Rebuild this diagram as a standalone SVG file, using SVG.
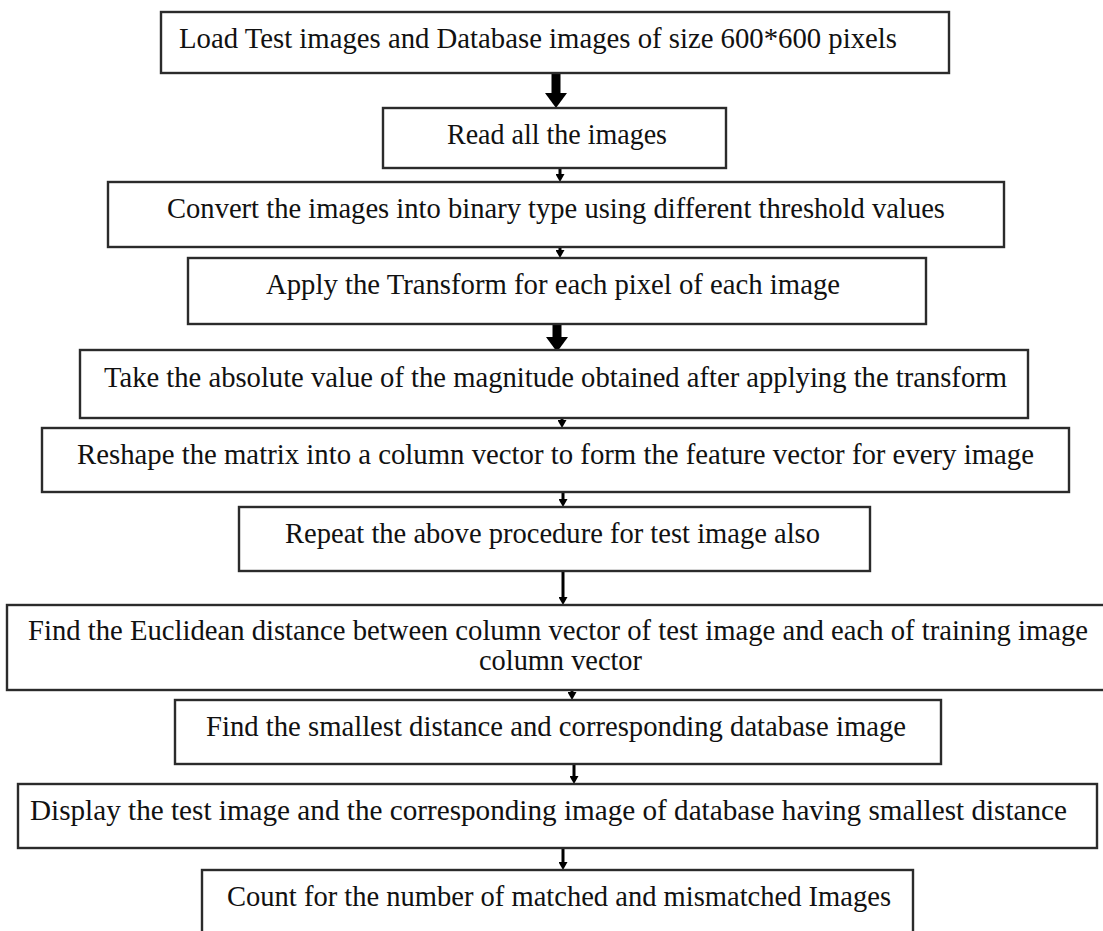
<svg xmlns="http://www.w3.org/2000/svg" width="1103" height="931" viewBox="0 0 1103 931">
<style>
.box{fill:#fff;stroke:#2b2b2b;stroke-width:2.4}
.t{font-family:"Liberation Serif","Times New Roman",serif;font-size:30px;fill:#111}
.thick{stroke:#000;stroke-width:9;fill:none}
.thin{stroke:#000;stroke-width:3;fill:none}
</style>
<defs>
<marker id="hThick" markerUnits="userSpaceOnUse" viewBox="0 0 15 22" markerWidth="15" markerHeight="22" refX="0" refY="11" orient="auto">
<path d="M0,0 L15,11 L0,22 z" fill="#000"/>
</marker>
<marker id="hThin" markerUnits="userSpaceOnUse" viewBox="0 0 8 9" markerWidth="8" markerHeight="9" refX="0" refY="4.5" orient="auto">
<path d="M0,0 L8,4.5 L0,9 z" fill="#000"/>
</marker>
</defs>
<rect width="1103" height="931" fill="#fff"/>
<g id="connectors">
<line class="thick" x1="556" y1="73" x2="556" y2="93" marker-end="url(#hThick)"/>
<line class="thin" x1="560" y1="168" x2="560" y2="174" marker-end="url(#hThin)"/>
<line class="thin" x1="560" y1="247" x2="560" y2="250" marker-end="url(#hThin)"/>
<line class="thick" x1="557" y1="324" x2="557" y2="337" marker-end="url(#hThick)"/>
<line class="thin" x1="562" y1="418" x2="562" y2="420" marker-end="url(#hThin)"/>
<line class="thin" x1="563" y1="492" x2="563" y2="499" marker-end="url(#hThin)"/>
<line class="thin" x1="563" y1="571" x2="563" y2="597" marker-end="url(#hThin)"/>
<line class="thin" x1="572" y1="690" x2="572" y2="692" marker-end="url(#hThin)"/>
<line class="thin" x1="574" y1="764" x2="574" y2="776" marker-end="url(#hThin)"/>
<line class="thin" x1="563" y1="848" x2="563" y2="862" marker-end="url(#hThin)"/>
</g>
<g id="n1"><rect class="box" x="161" y="12" width="788" height="61"/><text class="t" x="179" y="48" textLength="718" lengthAdjust="spacingAndGlyphs">Load Test images and Database images of size 600*600 pixels</text></g>
<g id="n2"><rect class="box" x="383" y="108" width="343" height="60"/><text class="t" x="447" y="144" textLength="220" lengthAdjust="spacingAndGlyphs">Read all the images</text></g>
<g id="n3"><rect class="box" x="108" y="182" width="896" height="65"/><text class="t" x="167" y="218" textLength="778" lengthAdjust="spacingAndGlyphs">Convert the images into binary type using different threshold values</text></g>
<g id="n4"><rect class="box" x="188" y="258" width="738" height="66"/><text class="t" x="266" y="294" textLength="574" lengthAdjust="spacingAndGlyphs">Apply the Transform for each pixel of each image</text></g>
<g id="n5"><rect class="box" x="80" y="350" width="948" height="68"/><text class="t" x="104" y="387" textLength="903" lengthAdjust="spacingAndGlyphs">Take the absolute value of the magnitude obtained after applying the transform</text></g>
<g id="n6"><rect class="box" x="42" y="428" width="1027" height="64"/><text class="t" x="77" y="464" textLength="957" lengthAdjust="spacingAndGlyphs">Reshape the matrix into a column vector to form the feature vector for every image</text></g>
<g id="n7"><rect class="box" x="239" y="507" width="631" height="64"/><text class="t" x="285" y="543" textLength="535" lengthAdjust="spacingAndGlyphs">Repeat the above procedure for test image also</text></g>
<g id="n8"><rect class="box" x="7" y="605" width="1103" height="85"/><text class="t" x="28" y="640" textLength="1060" lengthAdjust="spacingAndGlyphs">Find the Euclidean distance between column vector of test image and each of training image</text><text class="t" x="479" y="670" textLength="163" lengthAdjust="spacingAndGlyphs">column vector</text></g>
<g id="n9"><rect class="box" x="175" y="700" width="766" height="64"/><text class="t" x="206" y="736" textLength="700" lengthAdjust="spacingAndGlyphs">Find the smallest distance and corresponding database image</text></g>
<g id="n10"><rect class="box" x="18" y="784" width="1079" height="64"/><text class="t" x="30" y="820" textLength="1037" lengthAdjust="spacingAndGlyphs">Display the test image and the corresponding image of database having smallest distance</text></g>
<g id="n11"><rect class="box" x="202" y="870" width="711" height="80"/><text class="t" x="227" y="906" textLength="664" lengthAdjust="spacingAndGlyphs">Count for the number of matched and mismatched Images</text></g>
</svg>
